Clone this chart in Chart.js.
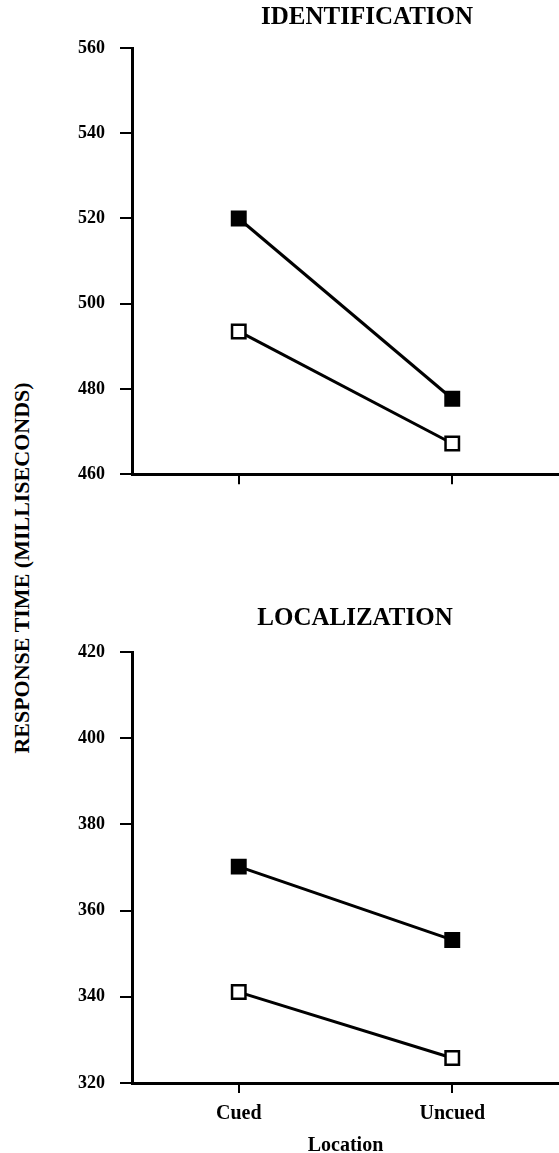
<!DOCTYPE html>
<html>
<head>
<meta charset="utf-8">
<script src="https://cdn.jsdelivr.net/npm/chart.js@4.4.1/dist/chart.umd.min.js"></script>
<style>
  html, body { margin: 0; padding: 0; background: #fff; }
  body { width: 559px; height: 1153px; position: relative; overflow: hidden; }
  .panel { position: absolute; left: 0; width: 559px; }
  #topPanel { top: 0; height: 500px; }
  #bottomPanel { top: 580px; height: 576px; }
  #yTitle {
    position: absolute; left: 22px; top: 568px;
    transform: translate(-50%, -50%) rotate(-90deg);
    font: bold 22px "Liberation Serif", serif; color: #000; white-space: nowrap;
  }
</style>
</head>
<body>
<div id="yTitle">RESPONSE TIME (MILLISECONDS)</div>
<div class="panel" id="topPanel"><canvas id="chartTop"></canvas></div>
<div class="panel" id="bottomPanel"><canvas id="chartBottom"></canvas></div>

<script>
// Dados
const locations = ['Cued', 'Uncued'];

const identFilled = [520, 477.7];
const identOpen = [493.5, 467.2];
const identTicks = [460, 480, 500, 520, 540, 560];

const localFilled = [370.2, 353.2];
const localOpen = [341.1, 325.8];
const localTicks = [320, 340, 360, 380, 400, 420];

const serif = '"Liberation Serif", "Times New Roman", serif';

// Titulo de cada painel (centrado um pouco a direita da area do grafico)
const panelTitle = {
    id: 'panelTitle',
    afterDraw(chart, args, opts) {
        const ctx = chart.ctx;
        const area = chart.chartArea;
        ctx.save();
        ctx.font = 'bold 25px ' + serif;
        ctx.fillStyle = '#000';
        ctx.textAlign = 'center';
        ctx.textBaseline = 'middle';
        ctx.fillText(opts.text, (area.left + area.right) / 2 + opts.shift, opts.y);
        ctx.restore();
    }
};

function series(label, values, fill) {
    return {
        label: label,
        data: values,
        borderColor: '#000',
        borderWidth: 3,
        pointStyle: 'rect',
        pointRadius: 9.5,
        pointHoverRadius: 9.5,
        pointBorderWidth: 2.5,
        pointBorderColor: '#000',
        pointBackgroundColor: fill,
        backgroundColor: fill,
        tension: 0,
        clip: false
    };
}

function makeConfig(filled, open, ticks, title, shift, titleY, padTop, axisHeight, showLabels) {
    return {
        type: 'line',
        data: {
            labels: locations,
            datasets: [series('Filled', filled, '#000'), series('Open', open, '#fff')]
        },
        plugins: [panelTitle],
        options: {
            responsive: true,
            maintainAspectRatio: false,
            animation: false,
            layout: { autoPadding: false, padding: { top: padTop, left: 0, right: 0, bottom: 0 } },
            plugins: {
                legend: { display: false },
                tooltip: { enabled: false },
                panelTitle: { text: title, shift: shift, y: titleY }
            },
            scales: {
                x: {
                    offset: true,
                    grid: { offset: false, drawOnChartArea: false, tickLength: 10, color: '#000', lineWidth: 2 },
                    border: { color: '#000', width: 3 },
                    ticks: { display: showLabels, color: '#000', padding: 9, font: { family: serif, size: 20, weight: 'bold' } },
                    title: {
                        display: showLabels, text: 'Location', color: '#000', padding: 0,
                        font: { family: serif, size: 20, weight: 'bold', lineHeight: 1 }
                    },
                    afterFit: function(s) { s.height = axisHeight; }
                },
                y: {
                    min: ticks[0],
                    max: ticks[ticks.length - 1],
                    afterBuildTicks: function(s) { s.ticks = ticks.map(v => ({ value: v })); },
                    grid: { drawOnChartArea: false, tickLength: 12, color: '#000', lineWidth: 2 },
                    border: { color: '#000', width: 3 },
                    ticks: { color: '#000', padding: 15, font: { family: serif, size: 18, weight: 'bold' } },
                    afterFit: function(s) { s.width = 132; }
                }
            }
        }
    };
}

const configTop = makeConfig(identFilled, identOpen, identTicks, 'IDENTIFICATION', 21.5, 18, 48, 21, false);
const configBottom = makeConfig(localFilled, localOpen, localTicks, 'LOCALIZATION', 9.5, 38.5, 72, 73, true);

const chartTop = new Chart(document.getElementById('chartTop'), configTop);
const chartBottom = new Chart(document.getElementById('chartBottom'), configBottom);
</script>
</body>
</html>
